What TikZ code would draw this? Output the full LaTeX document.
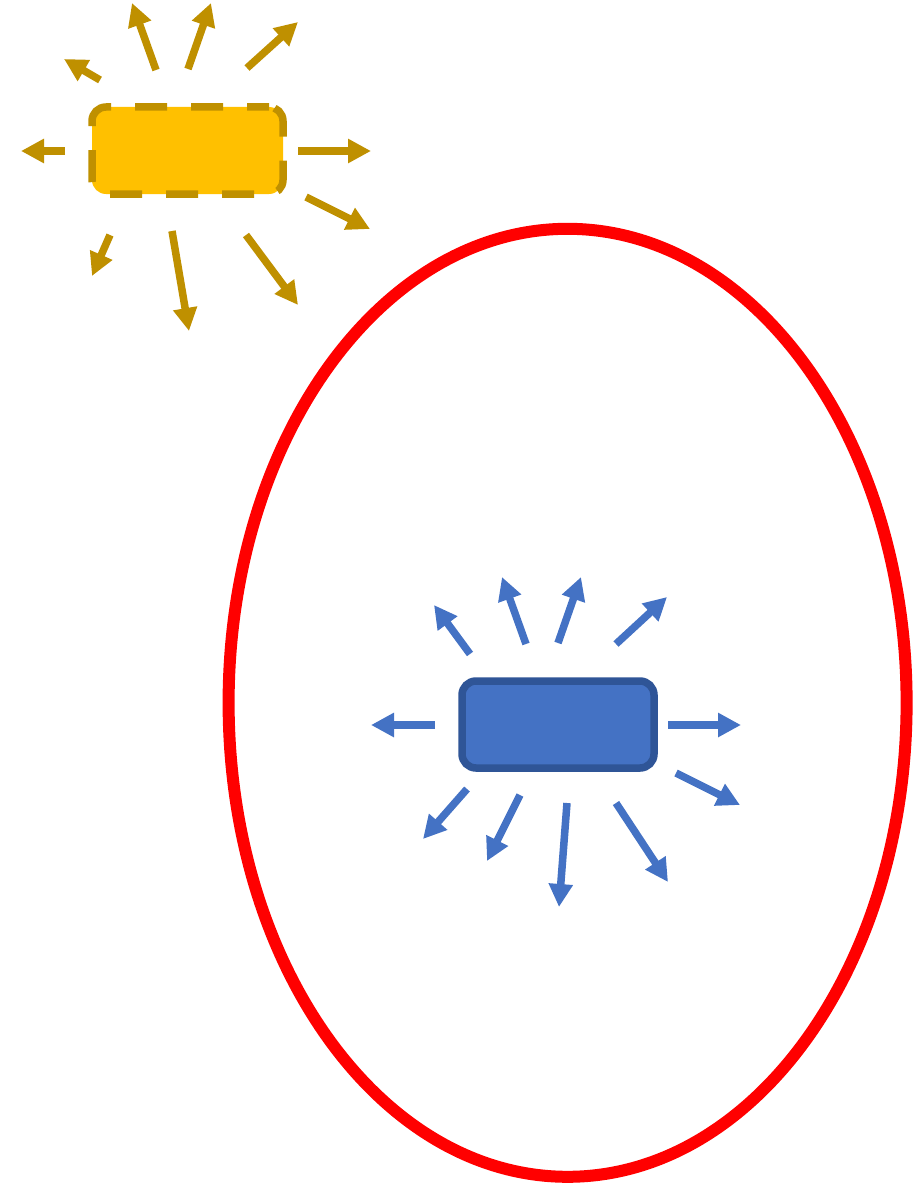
\documentclass[tikz,border=0pt]{standalone}
\usetikzlibrary{arrows.meta,shapes.geometric}
\definecolor{yfill}{HTML}{FFC000}
\definecolor{ydark}{HTML}{BF9000}
\definecolor{bfill}{HTML}{4472C4}
\definecolor{bdark}{HTML}{2F5597}
\tikzset{
  yarr/.style={draw=ydark, line width=7.5pt, -{Triangle[length=23pt,width=23pt]}},
  barr/.style={draw=bfill, line width=7.5pt, -{Triangle[length=23pt,width=23pt]}},
  ybox/.style={draw=ydark, fill=yfill, line width=7.5pt, rounded corners=14pt, dash pattern=on 32pt off 24pt, dash phase=10pt,
    minimum width=191pt, minimum height=87pt, inner sep=0pt, outer sep=0pt},
  bbox/.style={draw=bdark, fill=bfill, line width=7.5pt, rounded corners=14pt,
    minimum width=192pt, minimum height=87pt, inner sep=0pt, outer sep=0pt},
  ring/.style={draw=red, line width=12pt, ellipse, minimum width=678pt, minimum height=948pt, inner sep=0pt, outer sep=0pt}
}
\begin{document}
\begin{tikzpicture}[x=1pt, y=-1pt]
\useasboundingbox (0,0) rectangle (923,1188);
\node[ring] (oval) at (567.6,702.8) {};
\node[ybox] (ysrc) at (187.5,150.5) {};
\node[bbox] (bsrc) at (558,724.5) {};
\foreach \a/\b/\c/\d [count=\i] in {
  100/80/64/59, 156/70/132/3, 188/69/211/3, 247/68/298/22,
  65/151/21/151, 298/151/371/151, 306/197/370/229,
  246/235/298/305, 172/231/189/331, 110/235/92/276}
{
  \coordinate (yt\i) at (\a,\b);
  \coordinate (yh\i) at (\c,\d);
  \draw[yarr] (yt\i) -- (yh\i);
}
\foreach \a/\b/\c/\d [count=\i] in {
  435/725/371/725, 668/725/741/725, 470/654/434/605, 526/644/502/577,
  558/643/581/577, 616/644/667/597, 676/773/740/805, 616/803/668/882,
  567/803/559/907, 520/795/487/861, 467/789/423/839}
{
  \coordinate (bt\i) at (\a,\b);
  \coordinate (bh\i) at (\c,\d);
  \draw[barr] (bt\i) -- (bh\i);
}
\end{tikzpicture}
\end{document}
